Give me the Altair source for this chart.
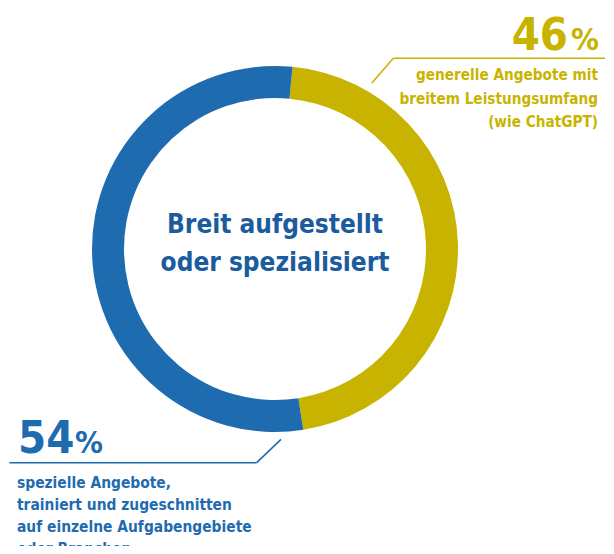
import math
import altair as alt
import pandas as pd

# ---- data ----
categories = ["generell", "speziell"]
values = [46, 54]
pct_labels = ["46", "54"]
descriptions = [
    "generelle Angebote mit\nbreitem Leistungsumfang\n(wie ChatGPT)",
    "spezielle Angebote,\ntrainiert und zugeschnitten\nauf einzelne Aufgabengebiete\noder Branchen",
]
title_text = "Breit aufgestellt\noder spezialisiert"
colors = ["#C8B400", "#1F6BB0"]
title_color = "#1A5C9E"

FONT = "'DejaVu Sans Condensed', 'Liberation Sans Narrow', Roboto, sans-serif"

df = pd.DataFrame({"cat": categories, "value": values, "order": [0, 1]})

W, H = 598, 538
CX, CY = 267, 241
offset = math.radians(5.5)

color_scale = alt.Scale(domain=categories, range=colors)

ring = alt.Chart(df).mark_arc(outerRadius=183, innerRadius=151, stroke=None).encode(
    theta=alt.Theta("value:Q", stack=True, scale=alt.Scale(range=[offset, offset + 2 * math.pi])),
    order=alt.Order("order:Q"),
    color=alt.Color("cat:N", scale=color_scale, legend=None),
    x=alt.value(CX),
    y=alt.value(CY),
)

title_df = pd.DataFrame({"t": [title_text]})
center = alt.Chart(title_df).mark_text(
    font=FONT, fontSize=26, fontWeight="bold", color=title_color,
    align="center", baseline="alphabetic", lineBreak="\n", lineHeight=38,
).encode(text="t:N", x=alt.value(CX), y=alt.value(225))

gold_df = pd.DataFrame({"pct": [pct_labels[0]], "desc": [descriptions[0]], "cat": [categories[0]]})
blue_df = pd.DataFrame({"pct": [pct_labels[1]], "desc": [descriptions[1]], "cat": [categories[1]]})

cenc = alt.Color("cat:N", scale=color_scale, legend=None)

gold_num = alt.Chart(gold_df).mark_text(
    font=FONT, fontSize=45, fontWeight="bold", align="right", baseline="alphabetic"
).encode(text="pct:N", color=cenc, x=alt.value(560), y=alt.value(42))
gold_pct = alt.Chart(gold_df).mark_text(
    font=FONT, fontSize=31, fontWeight="bold", align="right", baseline="alphabetic", text="%"
).encode(color=cenc, x=alt.value(591), y=alt.value(42))
gold_desc = alt.Chart(gold_df).mark_text(
    font=FONT, fontSize=15.2, fontWeight="bold", align="right", baseline="alphabetic",
    lineBreak="\n", lineHeight=23.5,
).encode(text="desc:N", color=cenc, x=alt.value(590), y=alt.value(72))

blue_num = alt.Chart(blue_df).mark_text(
    font=FONT, fontSize=45, fontWeight="bold", align="left", baseline="alphabetic"
).encode(text="pct:N", color=cenc, x=alt.value(10), y=alt.value(445))
blue_pct = alt.Chart(blue_df).mark_text(
    font=FONT, fontSize=31, fontWeight="bold", align="left", baseline="alphabetic", text="%"
).encode(color=cenc, x=alt.value(67), y=alt.value(445))
blue_desc = alt.Chart(blue_df).mark_text(
    font=FONT, fontSize=15.4, fontWeight="bold", align="left", baseline="alphabetic",
    lineBreak="\n", lineHeight=22,
).encode(text="desc:N", color=cenc, x=alt.value(9), y=alt.value(480))

# leader lines
gold_diag = alt.Chart(gold_df).mark_rule(strokeWidth=1.6, color=colors[0]).encode(
    x=alt.value(363.7), y=alt.value(75.3), x2=alt.value(385.3), y2=alt.value(50.3))
gold_hor = alt.Chart(gold_df).mark_rule(strokeWidth=1.6, color=colors[0]).encode(
    x=alt.value(385.3), y=alt.value(50.3), x2=alt.value(597), y2=alt.value(50.3))
blue_hor = alt.Chart(blue_df).mark_rule(strokeWidth=1.6, color=colors[1]).encode(
    x=alt.value(1.3), y=alt.value(454.7), x2=alt.value(248.7), y2=alt.value(454.7))
blue_diag = alt.Chart(blue_df).mark_rule(strokeWidth=1.6, color=colors[1]).encode(
    x=alt.value(248.7), y=alt.value(454.7), x2=alt.value(273), y2=alt.value(431.3))

chart = alt.layer(
    ring, center, gold_num, gold_pct, gold_desc, blue_num, blue_pct, blue_desc,
    gold_diag, gold_hor, blue_hor, blue_diag,
).properties(
    width=W, height=H, padding=0, autosize=alt.AutoSizeParams(type="none"),
).configure_view(stroke=None)

chart.save("out.html", embed_options={"renderer": "svg", "actions": False})
